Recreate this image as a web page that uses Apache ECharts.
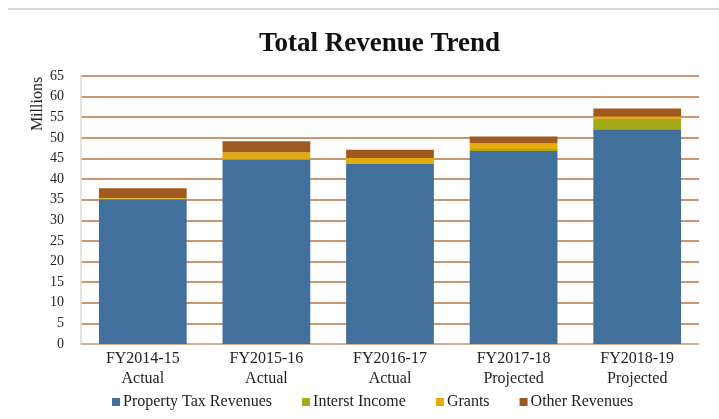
<!DOCTYPE html>
<html>
<head>
<meta charset="utf-8">
<script src="https://cdn.jsdelivr.net/npm/echarts@6/dist/echarts.min.js"></script>
<style>
  html, body { margin: 0; padding: 0; background: #fff; }
  #chart { width: 719px; height: 419px; }
</style>
</head>
<body>
<div id="chart"></div>
<script>
// Fiscal years on the x axis
const years = ['FY2014-15\nActual', 'FY2015-16\nActual', 'FY2016-17\nActual', 'FY2017-18\nProjected', 'FY2018-19\nProjected'];

// Revenue in millions
const propertyTax = [35.1, 44.7, 43.7, 46.8, 52.1];
const interestIncome = [0.1, 0.2, 0.2, 0.5, 2.5];
const grants = [0.2, 1.6, 1.2, 1.4, 0.6];
const otherRevenues = [2.4, 2.7, 2.0, 1.6, 1.9];

const seriesNames = ['Property Tax Revenues', 'Interst Income', 'Grants', 'Other Revenues'];
const seriesColors = ['#42709d', '#a4a91a', '#e3ac0c', '#a05a1f'];

const serif = '"Liberation Serif", "DejaVu Serif", serif';

let chart = echarts.init(document.getElementById('chart'));

let makeBar = (i, data) => {
    return {
        name: seriesNames[i],
        type: 'bar',
        stack: 'total',
        barWidth: '71%',
        data: data,
        itemStyle: { color: seriesColors[i] }
    };
};

let option = {
    animation: false,
    title: {
        left: 254,
        top: 26,
        text: 'Total Revenue Trend',
        textStyle: { fontFamily: serif, fontSize: 27, fontWeight: 'bold', color: '#111' }
    },
    legend: {
        bottom: 4,
        left: 107,
        itemWidth: 8,
        itemHeight: 8,
        itemGap: 30,
        icon: 'rect',
        data: seriesNames,
        textStyle: { fontFamily: serif, fontSize: 16, color: '#222', padding: [0, 0, 0, -2] }
    },
    grid: { left: 81, right: 20, top: 76, bottom: 75 },
    xAxis: {
        type: 'category',
        data: years,
        axisTick: { show: false },
        axisLine: { lineStyle: { color: '#d9b79c', width: 1.5 } },
        axisLabel: { fontFamily: serif, fontSize: 16, color: '#222', lineHeight: 20, margin: 5 }
    },
    yAxis: {
        type: 'value',
        min: 0,
        max: 65,
        interval: 5,
        axisLine: { show: true, lineStyle: { color: '#d9d9d9', width: 1.5 } },
        axisTick: { show: false },
        axisLabel: { fontFamily: serif, fontSize: 14, color: '#222', margin: 17 },
        splitLine: { lineStyle: { color: '#c99873', width: 2 } }
    },
    series: [
        makeBar(0, propertyTax),
        makeBar(1, interestIncome),
        makeBar(2, grants),
        makeBar(3, otherRevenues)
    ],
    graphic: [{
        type: 'line',
        shape: { x1: 8, y1: 9, x2: 719, y2: 9 },
        style: { stroke: '#d6d6d6', lineWidth: 2 }
    }, {
        // y axis unit label
        type: 'text',
        x: 38,
        y: 104,
        rotation: Math.PI / 2,
        style: { text: 'Millions', font: '16px ' + serif, fill: '#222', align: 'center', verticalAlign: 'middle' }
    }]
};

chart.setOption(option);
</script>
</body>
</html>
